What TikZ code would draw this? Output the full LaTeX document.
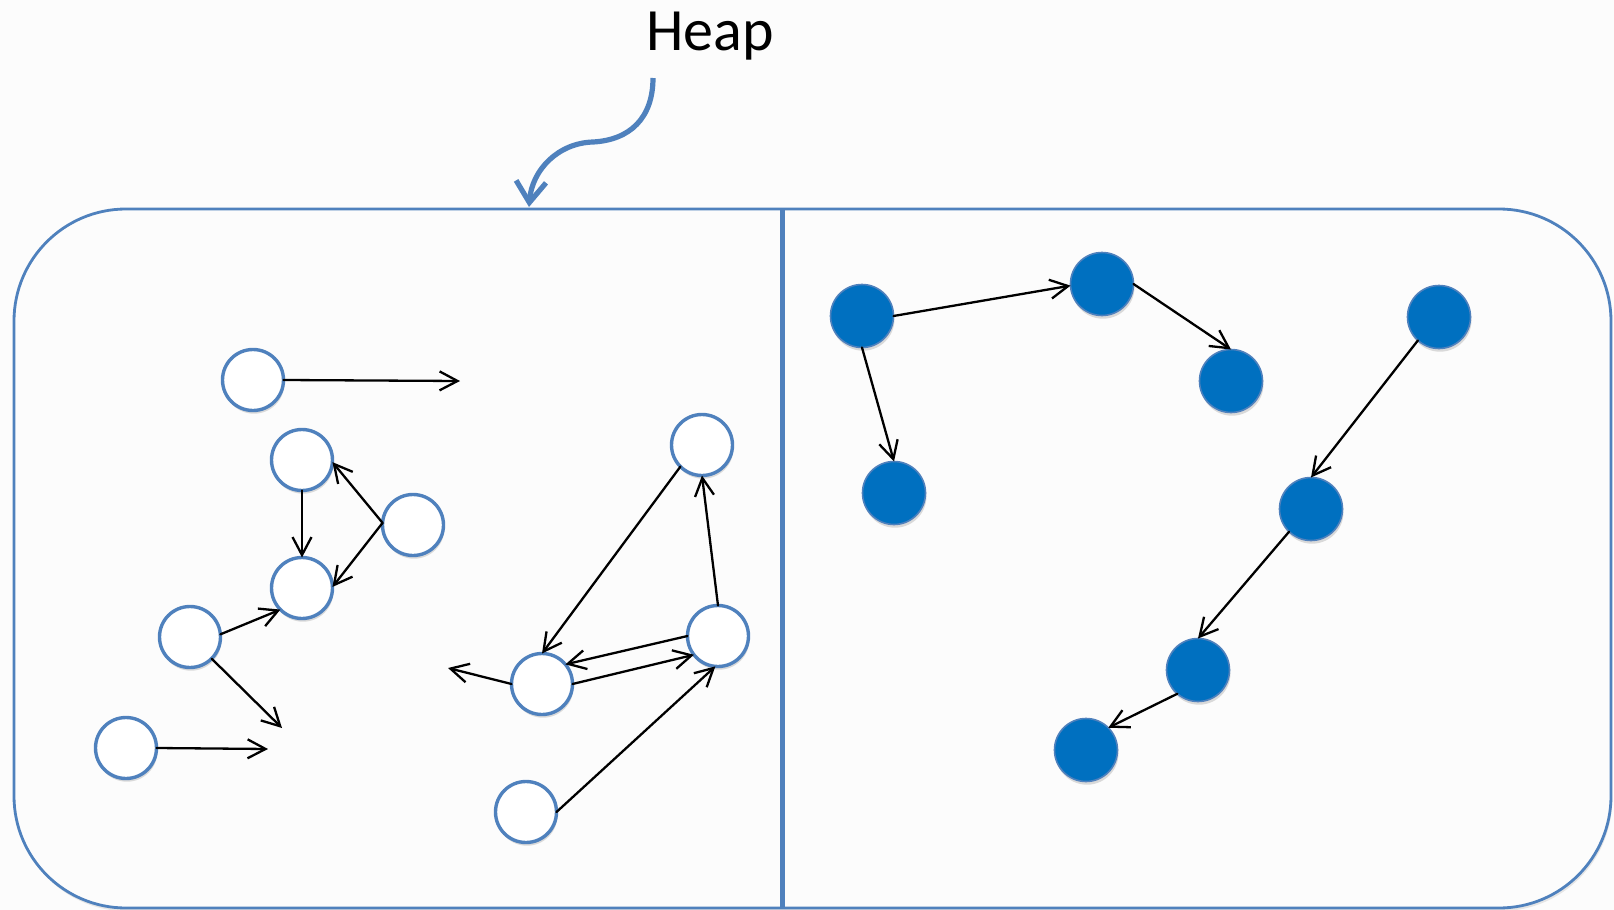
\documentclass[tikz,border=0pt]{standalone}
\usepackage{fontspec}
\setmainfont{Carlito}
\usetikzlibrary{arrows.meta,shadows}
\definecolor{edgeblue}{RGB}{79,129,189}
\definecolor{fillblue}{RGB}{0,112,192}
\definecolor{bgc}{RGB}{252,252,252}
\begin{document}
\begin{tikzpicture}[x=0.5pt,y=-0.5pt,
  softshadow/.style={drop shadow={opacity=0.28,shadow xshift=0.5pt,shadow yshift=-1.6pt}},
  wnode/.style={circle,draw=edgeblue,fill=white,line width=1.7pt,minimum size=30.5pt,inner sep=0pt,outer sep=0pt,softshadow},
  bnode/.style={circle,draw=edgeblue,fill=fillblue,line width=0.8pt,minimum size=31.5pt,inner sep=0pt,outer sep=0pt,softshadow},
  ptr/.style={-{Straight Barb[length=9pt,width=9.5pt,line width=1.15pt]},line width=1.15pt,black,line cap=round},
  heaparrow/.style={edgeblue,line width=2.6pt,-{Straight Barb[length=10.5pt,width=15pt,line width=2.6pt]}}
]
\useasboundingbox (0,0) rectangle (1614,910);
\fill[bgc] (0,0) rectangle (1614,910);

% heap box
\draw[edgeblue,line width=1.4pt,fill=bgc,rounded corners=56pt,drop shadow={opacity=0.18,shadow xshift=0.6pt,shadow yshift=-1.6pt}] (14,209) rectangle (1611,908);
\coordinate (dtop) at (782,209);
\coordinate (dbot) at (782,908);
\draw[edgeblue,line width=2.5pt] (dtop) -- (dbot);

% title and arrow
\node[font=\fontsize{30}{36}\selectfont,anchor=base,inner sep=0pt] (heap) at (710,50) {Heap};
\coordinate (hs) at (653,78);
\coordinate (hm) at (593,142);
\coordinate (he) at (529,207);
\draw[heaparrow] (hs) .. controls (653,118) and (630,140) .. (hm) .. controls (558,143) and (532,170) .. (he);

% white nodes
\node[wnode] (W1) at (253,380) {};
\node[wnode] (W2) at (302,460) {};
\node[wnode] (W3) at (413,525) {};
\node[wnode] (W4) at (302,588) {};
\node[wnode] (W5) at (190,637) {};
\node[wnode] (W6) at (126,748) {};
\node[wnode] (W7) at (702,445) {};
\node[wnode] (W8) at (718,636) {};
\node[wnode] (W9) at (542,684) {};
\node[wnode] (W10) at (526,812) {};

\coordinate (e1) at (460,381);
\coordinate (e2) at (282,728);
\coordinate (e3) at (268,749);
\coordinate (e4) at (448,668);

\draw[ptr] (W1.east) -- (e1);
\draw[ptr] (W2.south) -- (W4.north);
\draw[ptr] (W3.176) -- (W2.-4);
\draw[ptr] (W3.176) -- (W4.2);
\draw[ptr] (W5.5) -- (W4.225);
\draw[ptr] (W5.-45) -- (e2);
\draw[ptr] (W6.east) -- (e3);
\draw[ptr] (W7.225) -- (W9.north);
\draw[ptr] (W8.north) -- (W7.south);
\draw[ptr] (W8.west) -- (W9.40);
\draw[ptr] (W9.east) -- (W8.218);
\draw[ptr] (W9.west) -- (e4);
\draw[ptr] (W10.east) -- (W8.-95);

% blue nodes
\node[bnode] (B1) at (862,316) {};
\node[bnode] (B2) at (1102,284) {};
\node[bnode] (B3) at (1231,381) {};
\node[bnode] (B4) at (894,493) {};
\node[bnode] (B5) at (1439,317) {};
\node[bnode] (B6) at (1311,509) {};
\node[bnode] (B7) at (1198,670) {};
\node[bnode] (B8) at (1086,750) {};

\draw[ptr] (B1.east) -- (B2.183);
\draw[ptr] (B2.east) -- (B3.north);
\draw[ptr] (B1.south) -- (B4.north);
\draw[ptr] (B5.228) -- (B6.north);
\draw[ptr] (B6.226) -- (B7.north);
\draw[ptr] (B7.229) -- (B8.45);
\end{tikzpicture}
\end{document}
